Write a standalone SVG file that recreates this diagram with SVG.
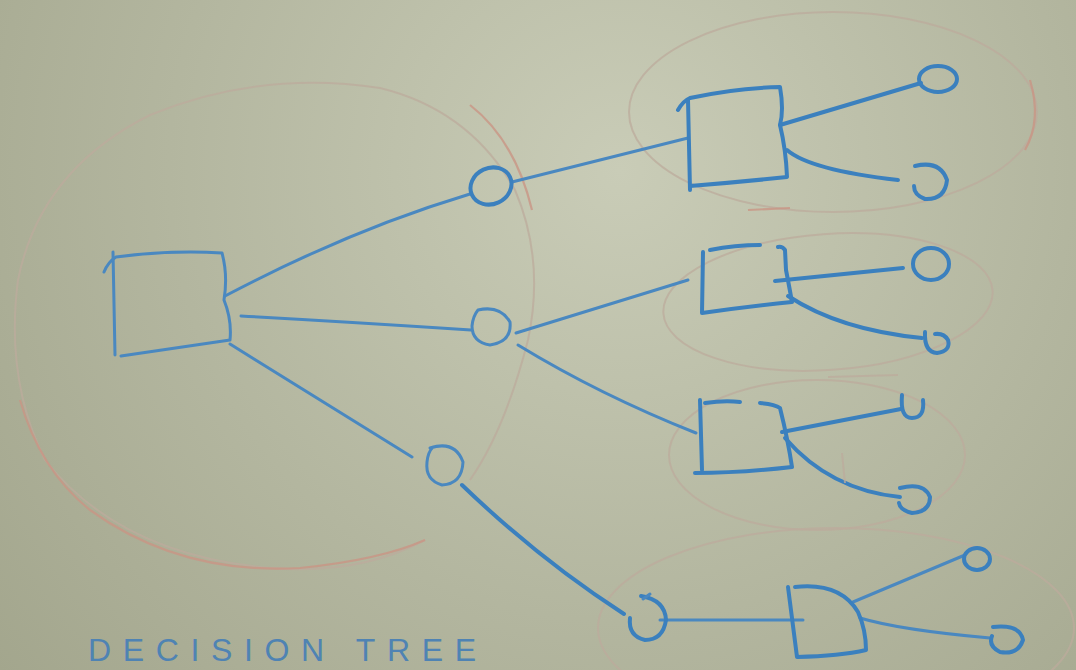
<svg xmlns="http://www.w3.org/2000/svg" width="1076" height="670" viewBox="0 0 1076 670">
  <defs>
    <radialGradient id="board" cx="620" cy="170" r="820" gradientUnits="userSpaceOnUse">
      <stop offset="0" stop-color="#c9ccb7"/>
      <stop offset="0.55" stop-color="#b3b69f"/>
      <stop offset="1" stop-color="#a2a58c"/>
    </radialGradient>
    <style>
      .ink { fill: none; stroke: #3b80be; stroke-width: 4; stroke-linecap: round; stroke-linejoin: round; }
      .thin { fill: none; stroke: #4a88c0; stroke-width: 3; stroke-linecap: round; stroke-linejoin: round; }
      .halo { fill: none; stroke: #bcab9c; stroke-width: 2; opacity: 0.75; }
      .halo-red { fill: none; stroke: #c99585; stroke-width: 2.2; opacity: 0.8; }
      .title { font-family: "Liberation Sans", Arial, sans-serif; font-size: 32px; fill: #4f83b3; }
    </style>
  </defs>

  <rect width="1076" height="670" fill="url(#board)"/>

  <!-- faint pencil outlines grouping each stage -->
  <g id="outlines">
    <path class="halo" d="M425,540 Q360,575 270,568 Q120,555 45,460 Q5,380 18,280 Q40,170 150,115 Q260,70 380,88 Q470,110 515,190 Q545,260 528,340 Q505,430 470,480"/>
    <path class="halo-red" d="M470,105 Q515,140 532,210"/>
    <path class="halo-red" d="M20,400 Q40,470 90,510 Q180,575 300,568 Q380,560 425,540"/>
    <ellipse class="halo" cx="833" cy="112" rx="204" ry="100"/>
    <path class="halo-red" d="M1030,80 Q1042,120 1025,150"/>
    <path class="halo-red" d="M748,210 L790,208"/>
    <ellipse class="halo" cx="828" cy="302" rx="165" ry="68" transform="rotate(-4 828 302)"/>
    <ellipse class="halo" cx="817" cy="455" rx="148" ry="75"/>
    <path class="halo" d="M828,377 L898,375"/>
    <ellipse class="halo" cx="836" cy="628" rx="238" ry="100"/>
  </g>

  <!-- branches -->
  <g id="connectors">
    <path class="thin" d="M225,296 Q350,230 470,194"/>
    <path class="thin" d="M241,316 Q350,322 471,330"/>
    <path class="thin" d="M230,344 Q320,400 412,457"/>
    <path class="thin" d="M512,182 L688,138"/>
    <path class="thin" d="M516,333 L688,280"/>
    <path class="thin" d="M518,345 Q600,395 696,433"/>
    <path class="ink" d="M462,485 Q540,560 624,614"/>
    <path class="ink" d="M780,125 L921,83"/>
    <path class="ink" d="M787,150 Q810,170 898,180"/>
    <path class="ink" d="M775,281 L903,268"/>
    <path class="ink" d="M788,296 Q840,330 922,338"/>
    <path class="ink" d="M782,432 L901,409"/>
    <path class="ink" d="M785,438 Q830,490 900,497"/>
    <path class="thin" d="M660,620 L803,620"/>
    <path class="thin" d="M853,602 L965,555"/>
    <path class="thin" d="M860,618 Q900,630 990,638"/>
  </g>

  <!-- root decision -->
  <g id="root">
    <path class="thin" d="M104,272 Q108,262 116,257 Q170,250 222,253 Q228,275 224,300 Q232,320 230,340 Q175,348 121,356"/>
    <path class="thin" d="M113,252 L115,355"/>
  </g>

  <!-- first-level chance nodes -->
  <g id="chance-1"><ellipse class="ink" cx="491" cy="186" rx="21" ry="18" transform="rotate(-25 491 186)"/></g>
  <g id="chance-2"><path class="thin" d="M478,310 Q500,305 510,322 Q512,342 490,345 Q472,342 472,326 Q473,316 478,310"/></g>
  <g id="chance-3"><path class="thin" d="M430,448 Q455,440 463,462 Q462,484 442,485 Q425,480 427,462 Q428,452 433,447"/></g>

  <!-- second-level decisions -->
  <g id="decision-1">
    <path class="ink" d="M678,110 Q683,101 690,98 Q735,88 780,87 Q784,110 780,125 Q786,150 787,177 Q740,182 690,186"/>
    <path class="ink" d="M688,100 L690,190"/>
  </g>
  <g id="decision-2">
    <path class="ink" d="M703,252 L702,313 Q750,306 792,302 Q788,280 786,270 L785,250 Q782,246 778,247"/>
    <path class="ink" d="M710,250 Q735,245 760,245"/>
  </g>
  <g id="decision-3">
    <path class="ink" d="M700,400 L702,470"/>
    <path class="ink" d="M705,403 Q725,400 740,402"/>
    <path class="ink" d="M760,403 Q775,404 780,408 Q788,440 792,467 Q740,473 695,473"/>
    <path class="halo" d="M842,453 L845,483"/>
  </g>

  <!-- chance node on the lower branch -->
  <g id="chance-4">
    <path class="ink" d="M641,596 Q665,600 666,620 Q663,640 645,640 Q628,636 630,618"/>
    <path class="thin" d="M643,599 L650,594"/>
  </g>

  <!-- lower decision -->
  <g id="decision-4">
    <path class="ink" d="M788,587 L797,657 Q840,656 866,650 Q866,630 858,612 Q840,582 795,587"/>
  </g>

  <!-- outcomes -->
  <g id="outcome-1a"><ellipse class="ink" cx="938" cy="79" rx="19" ry="13"/></g>
  <g id="outcome-1b"><path class="ink" d="M915,166 Q940,160 947,180 Q945,200 925,199 Q914,195 914,186"/></g>
  <g id="outcome-2a"><ellipse class="ink" cx="931" cy="264" rx="18" ry="16"/></g>
  <g id="outcome-2b"><path class="ink" d="M925,332 Q924,352 937,353 Q951,351 948,340 Q944,333 935,334"/></g>
  <g id="outcome-3a"><path class="ink" d="M902,395 Q900,418 912,418 Q925,418 923,400"/></g>
  <g id="outcome-3b"><path class="ink" d="M900,488 Q924,482 930,497 Q930,512 912,513 Q900,510 899,503"/></g>
  <g id="outcome-4a"><ellipse class="ink" cx="977" cy="559" rx="13" ry="11"/></g>
  <g id="outcome-4b"><path class="ink" d="M993,627 Q1020,624 1023,640 Q1018,655 1000,652 Q988,646 992,636"/></g>

  <text class="title" x="88" y="661" textLength="388" lengthAdjust="spacing">DECISION TREE</text>
</svg>
